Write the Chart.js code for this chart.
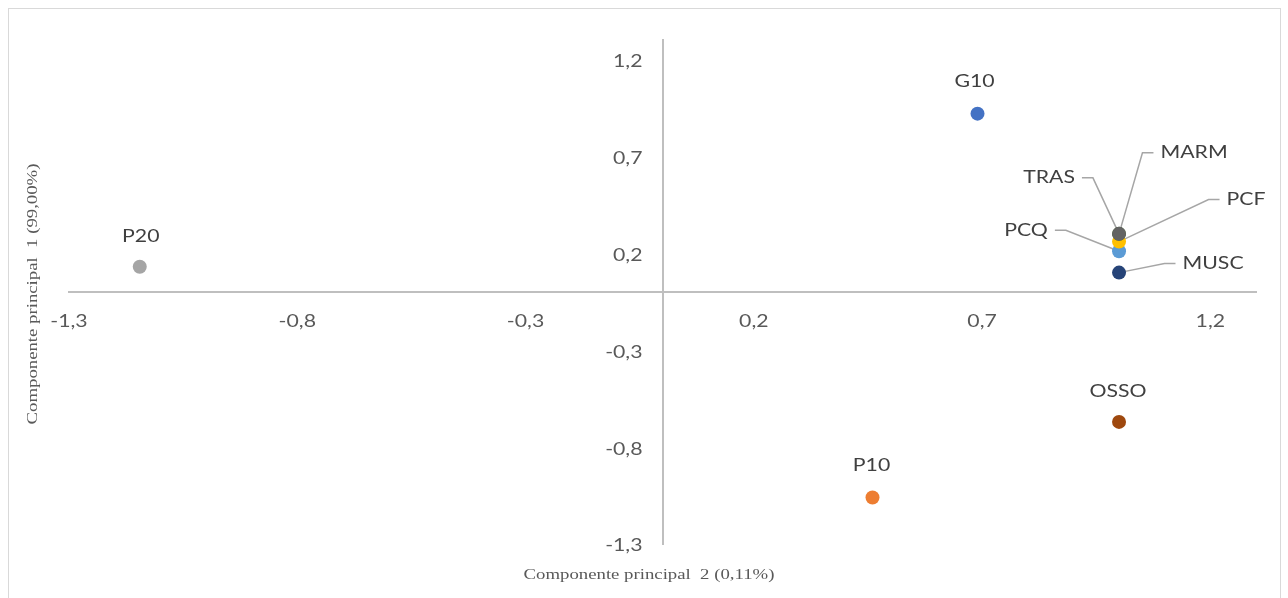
<!DOCTYPE html>
<html>
<head>
<meta charset="utf-8">
<script src="https://cdn.jsdelivr.net/npm/chart.js@4.4.1/dist/chart.umd.min.js"></script>
<style>
  html, body { margin: 0; padding: 0; background: #ffffff; }
  #wrap { width: 1288px; height: 598px; position: relative; }
</style>
</head>
<body>
<div id="wrap"><canvas id="c" width="1288" height="598"></canvas></div>
<script>
// ---- Data ----
const pointNames = ['P20', 'G10', 'P10', 'OSSO', 'MUSC', 'PCQ', 'PCF', 'MARM', 'TRAS'];
const xValues    = [-1.145, 0.69, 0.46, 1.00, 1.00, 1.00, 1.00, 1.00, 1.00];
const yValues    = [0.13, 0.92, -1.06, -0.67, 0.10, 0.21, 0.26, 0.30, 0.30];
const pointColors = ['#A5A5A5', '#4472C4', '#ED7D31', '#9E480E', '#264478', '#5B9BD5', '#FFC000', '#43682B', '#636363'];
const xTickValues = [-1.3, -0.8, -0.3, 0.2, 0.7, 1.2];
const yTickValues = [-1.3, -0.8, -0.3, 0.2, 0.7, 1.2];
const xTitle = 'Componente principal  2 (0,11%)';
const yTitle = 'Componente principal  1 (99,00%)';

// ---- Label placement styling (pixel offsets of label centre from its point) ----
const labelStyle = {
  P20:  { dx: 1,   dy: -30 },
  G10:  { dx: -3,  dy: -32 },
  P10:  { dx: -1,  dy: -32 },
  OSSO: { dx: -1,  dy: -30 },
  MUSC: { dx: 94,  dy: -9,  leader: true },
  PCQ:  { dx: -93, dy: -21, leader: true },
  PCF:  { dx: 127, dy: -42, leader: true },
  MARM: { dx: 75,  dy: -81, leader: true },
  TRAS: { dx: -70, dy: -56, leader: true }
};

const SX = 1.25; // horizontal stretch of the reference's text
const fmt = v => v.toFixed(1).replace('.', ',');
const points = xValues.map((x, i) => ({ x: x, y: yValues[i] }));
const labelFont = '17px Lato, "Open Sans", sans-serif';
const tickFont = '17px Lato, "Open Sans", sans-serif';

function stretchedText(ctx, text, x, y, align) {
  ctx.save();
  ctx.translate(x, y);
  ctx.scale(SX, 1);
  ctx.textAlign = align;
  ctx.fillText(text, 0, 0);
  ctx.restore();
}

const decorPlugin = {
  id: 'decor',
  beforeDraw(chart) {
    const ctx = chart.ctx;
    ctx.save();
    ctx.strokeStyle = '#D9D9D9';
    ctx.lineWidth = 1;
    ctx.strokeRect(8.5, 8.5, 1272, 600);
    ctx.restore();
  },
  beforeDatasetsDraw(chart) {
    const ctx = chart.ctx;
    const meta = chart.getDatasetMeta(0);
    ctx.save();
    ctx.font = labelFont;
    ctx.strokeStyle = '#A6A6A6';
    ctx.lineWidth = 1.5;
    meta.data.forEach((el, i) => {
      const st = labelStyle[pointNames[i]];
      if (!st || !st.leader) return;
      const w = ctx.measureText(pointNames[i]).width * SX;
      const tx = el.x + st.dx, ty = el.y + st.dy;
      let sx, ex;
      if (st.dx < 0) { sx = tx + w / 2 + 7; ex = sx + 11; }
      else { sx = tx - w / 2 - 7; ex = sx - 11; }
      ctx.beginPath();
      ctx.moveTo(sx, ty);
      ctx.lineTo(ex, ty);
      ctx.lineTo(el.x, el.y);
      ctx.stroke();
    });
    ctx.restore();
  },
  afterDatasetsDraw(chart) {
    const ctx = chart.ctx;
    const meta = chart.getDatasetMeta(0);
    ctx.save();
    ctx.font = labelFont;
    ctx.fillStyle = '#404040';
    ctx.textBaseline = 'middle';
    meta.data.forEach((el, i) => {
      const st = labelStyle[pointNames[i]];
      if (!st) return;
      stretchedText(ctx, pointNames[i], el.x + st.dx, el.y + st.dy, 'center');
    });
    ctx.restore();
  },
  afterDraw(chart) {
    const ctx = chart.ctx;
    const xs = chart.scales.x, ys = chart.scales.y;
    const x0 = xs.getPixelForValue(0), y0 = ys.getPixelForValue(0);
    ctx.save();
    // tick labels, positioned by the library's scales
    ctx.font = tickFont;
    ctx.fillStyle = '#595959';
    ctx.textBaseline = 'middle';
    xs.ticks.forEach(t => {
      stretchedText(ctx, fmt(t.value), xs.getPixelForValue(t.value), y0 + 30, 'center');
    });
    ys.ticks.forEach(t => {
      stretchedText(ctx, fmt(t.value), x0 - 20, ys.getPixelForValue(t.value) + 2, 'right');
    });
    // axis titles
    ctx.font = '15px "Liberation Serif", "Times New Roman", serif';
    ctx.fillStyle = '#595959';
    stretchedText(ctx, xTitle, 649, 575, 'center');
    ctx.translate(33, 294);
    ctx.rotate(-Math.PI / 2);
    stretchedText(ctx, yTitle, 0, 0, 'center');
    ctx.restore();
  }
};

new Chart(document.getElementById('c'), {
  type: 'scatter',
  data: {
    datasets: [{
      data: points,
      backgroundColor: pointColors,
      borderColor: pointColors,
      pointRadius: 7,
      pointHoverRadius: 7,
      borderWidth: 0
    }]
  },
  options: {
    responsive: false,
    animation: false,
    layout: { padding: { left: 69, right: 32, top: 40, bottom: 54 } },
    plugins: { legend: { display: false }, tooltip: { enabled: false } },
    scales: {
      x: {
        type: 'linear',
        min: -1.3, max: 1.3,
        position: { y: 0 },
        afterBuildTicks: s => { s.ticks = xTickValues.map(v => ({ value: v })); },
        grid: { display: false, drawTicks: false },
        border: { display: true, color: '#BFBFBF', width: 2 },
        ticks: { display: false, autoSkip: false }
      },
      y: {
        type: 'linear',
        min: -1.3, max: 1.3,
        position: { x: 0 },
        afterBuildTicks: s => { s.ticks = yTickValues.map(v => ({ value: v })); },
        grid: { display: false, drawTicks: false },
        border: { display: true, color: '#BFBFBF', width: 2 },
        ticks: { display: false, autoSkip: false }
      }
    }
  },
  plugins: [decorPlugin]
});
</script>
</body>
</html>
